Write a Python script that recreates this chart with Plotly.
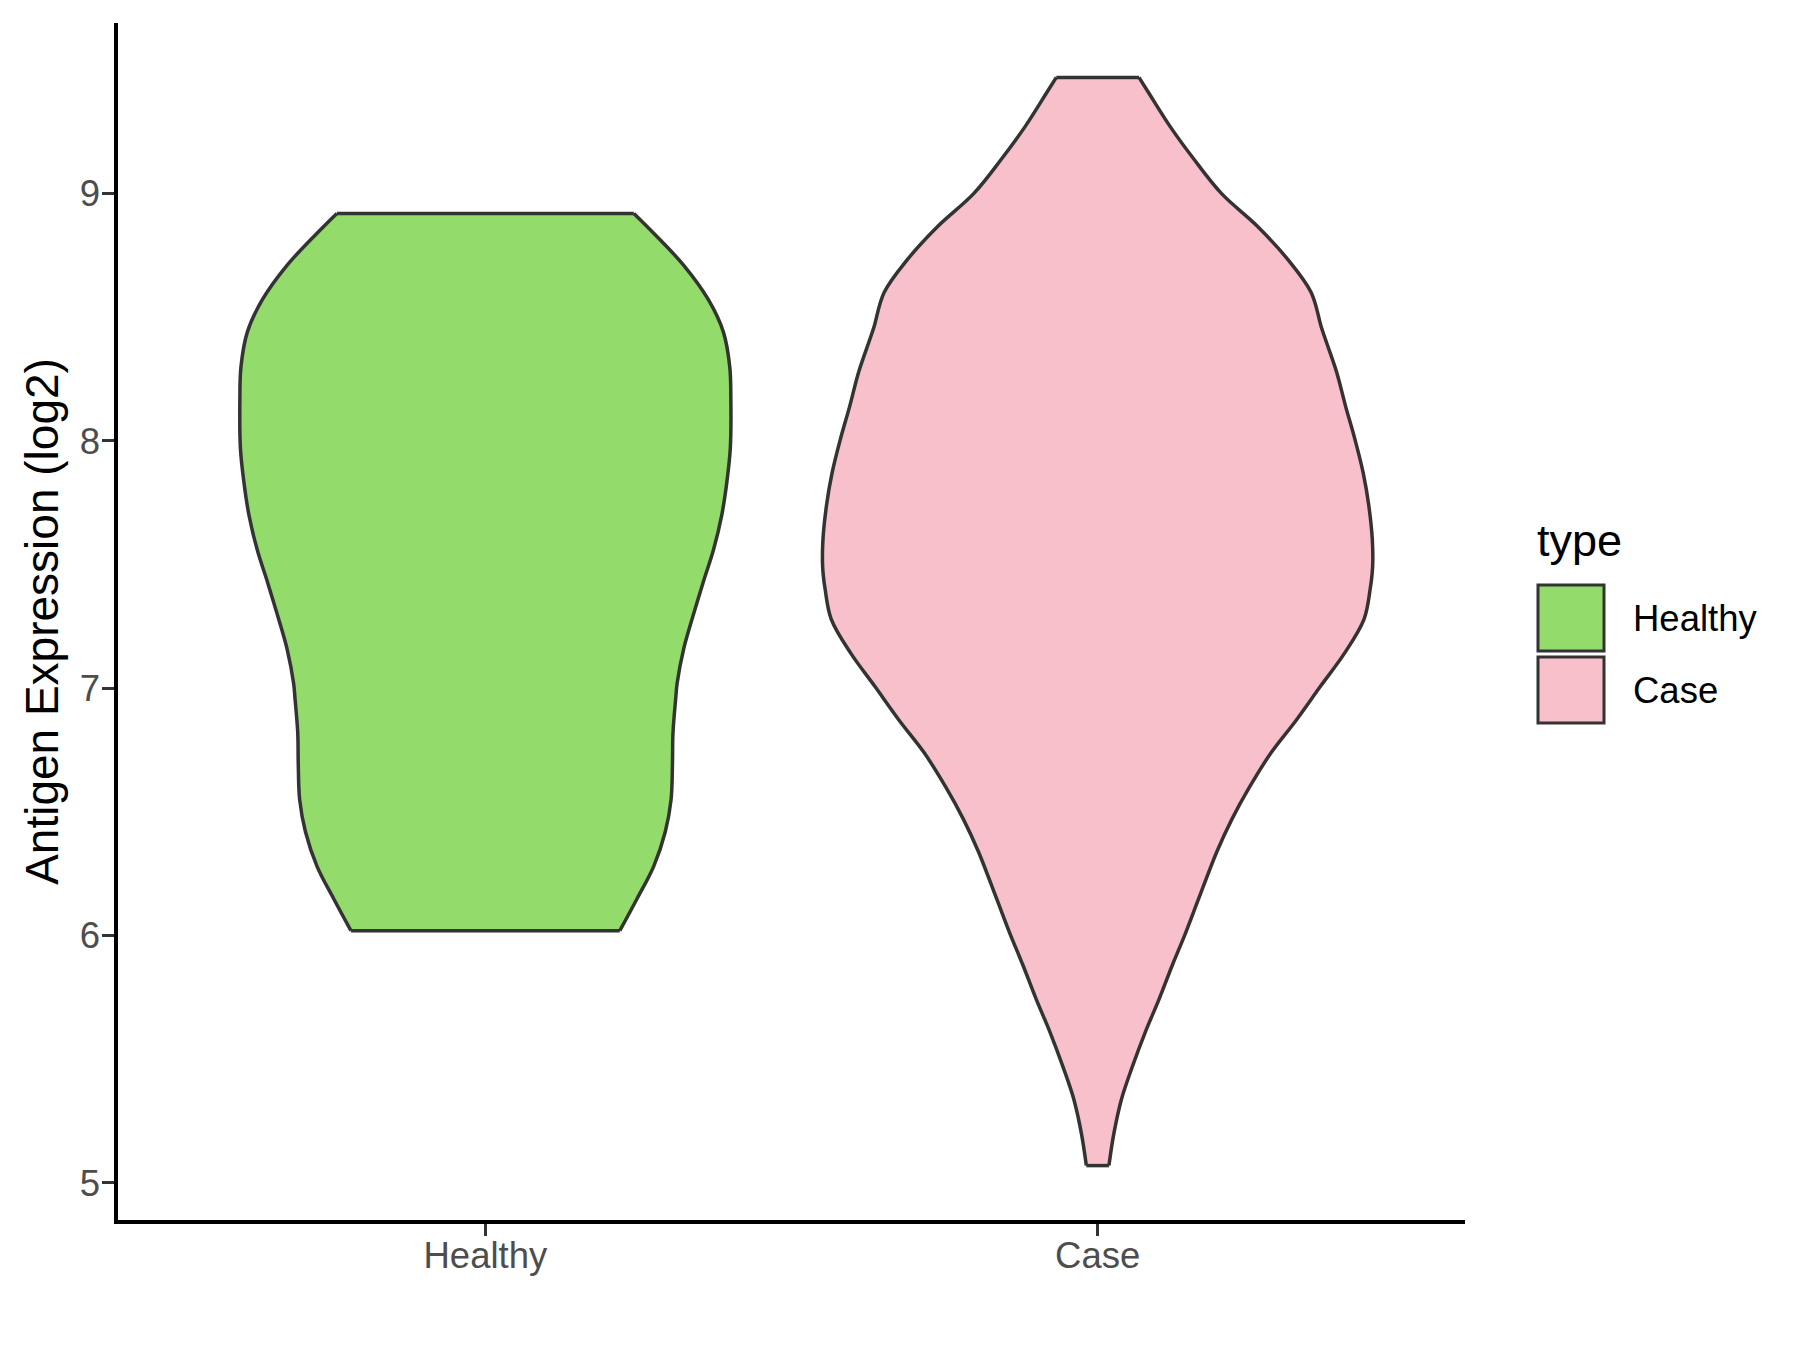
import numpy as np
import plotly.graph_objects as go

# ---------------- data ----------------
categories = ["Healthy", "Case"]
fill_colors = ["#93DB6B", "#F7C0CB"]

# violin profiles: y level and scaled density (1.0 = widest violin)
healthy_y = [6.02, 6.15, 6.28, 6.42, 6.55, 6.69, 6.82, 6.96, 7.02, 7.16, 7.29,
             7.43, 7.56, 7.70, 7.83, 7.97, 8.17, 8.30, 8.44, 8.57, 8.71, 8.84, 8.92]
healthy_density = [0.488, 0.551, 0.611, 0.653, 0.674, 0.679, 0.681, 0.691, 0.696,
                   0.720, 0.753, 0.791, 0.828, 0.858, 0.876, 0.889, 0.891, 0.887,
                   0.864, 0.810, 0.720, 0.611, 0.539]

case_y = [5.07, 5.20, 5.34, 5.47, 5.61, 5.74, 5.88, 6.01, 6.15, 6.34, 6.47, 6.60,
          6.74, 6.87, 7.01, 7.14, 7.28, 7.40, 7.49, 7.60, 7.74, 7.87, 8.01, 8.14,
          8.28, 8.41, 8.46, 8.60, 8.73, 8.87, 9.00, 9.14, 9.27, 9.41, 9.47]
case_density = [0.041, 0.059, 0.087, 0.126, 0.173, 0.222, 0.271, 0.319, 0.367,
                0.433, 0.487, 0.551, 0.630, 0.720, 0.810, 0.895, 0.967, 0.989,
                0.998, 0.997, 0.984, 0.964, 0.933, 0.900, 0.867, 0.827, 0.812,
                0.775, 0.693, 0.578, 0.450, 0.349, 0.264, 0.184, 0.150]

y_ticks = [5, 6, 7, 8, 9]
y_title = "Antigen Expression (log2)"
legend_title = "type"

# ---------------- layout constants ----------------
W, H = 1800, 1350
OFF = 8  # page body margin offset
ML, MR, MT, MB = 118 - OFF, 335 + OFF, 23 - OFF, 130 + OFF
PW, PH = W - ML - MR, H - MT - MB
HALF_WIDTH = 0.45
OUTLINE = "#333333"
LW = 3.5
FONT = "Liberation Sans, Arial, sans-serif"

profiles = [(healthy_y, healthy_density), (case_y, case_density)]

fig = go.Figure()
for i, (cat, (ys, ds), col) in enumerate(zip(categories, profiles, fill_colors)):
    pos = i + 1
    ys = np.asarray(ys, dtype=float)
    ds = np.asarray(ds, dtype=float)
    xr = pos + ds * HALF_WIDTH
    xl = pos - ds * HALF_WIDTH
    # filled body
    x = np.concatenate([xr, xl[::-1], xr[:1]])
    y = np.concatenate([ys, ys[::-1], ys[:1]])
    fig.add_trace(go.Scatter(
        x=x, y=y, mode="lines", fill="toself", fillcolor=col,
        line=dict(color=col, width=0), name=cat,
        showlegend=False, hoverinfo="skip"))
    # smooth side outlines
    for side in (xr, xl):
        fig.add_trace(go.Scatter(
            x=side, y=ys, mode="lines",
            line=dict(color=OUTLINE, width=LW, shape="spline", smoothing=1.0),
            showlegend=False, hoverinfo="skip"))
    # flat top and bottom edges
    for k in (0, -1):
        fig.add_trace(go.Scatter(
            x=[xl[k], xr[k]], y=[ys[k], ys[k]], mode="lines",
            line=dict(color=OUTLINE, width=LW),
            showlegend=False, hoverinfo="skip"))

all_y = healthy_y + case_y
lo, hi = min(all_y), max(all_y)
pad = 0.05 * (hi - lo)

fig.update_xaxes(
    range=[0.4, len(categories) + 0.6],
    tickvals=list(range(1, len(categories) + 1)), ticktext=categories,
    showline=True, linecolor="black", linewidth=3.5,
    ticks="outside", ticklen=12, tickwidth=3, tickcolor=OUTLINE,
    tickfont=dict(family=FONT, size=36.5, color="#4D4D4D"),
    ticklabelstandoff=-12,
    showgrid=False, zeroline=False, automargin=False)
fig.update_yaxes(
    range=[lo - pad, hi + pad], tickvals=y_ticks,
    showline=True, linecolor="black", linewidth=3.5,
    ticks="outside", ticklen=12, tickwidth=3, tickcolor=OUTLINE,
    tickfont=dict(family=FONT, size=36.5, color="#4D4D4D"),
    ticklabelstandoff=-5,
    title=dict(text=y_title, font=dict(family=FONT, size=46, color="black"), standoff=8),
    showgrid=False, zeroline=False, automargin=False)


def px_x(fx):
    return (fx - OFF - ML) / PW


def px_y(fy):
    return (H - MB - (fy - OFF)) / PH


# manual legend (ggplot style large keys)
shapes = []
annotations = [dict(text=legend_title, x=px_x(1535), y=px_y(540), xref="paper", yref="paper",
                    xanchor="left", yanchor="middle", showarrow=False,
                    font=dict(family=FONT, size=45, color="black"))]
key_top = 585
key_size = 66
key_step = 72
for i, (cat, col) in enumerate(zip(categories, fill_colors)):
    y0 = key_top + i * key_step
    shapes.append(dict(type="rect", xref="paper", yref="paper",
                       x0=px_x(1538), x1=px_x(1538 + key_size),
                       y0=px_y(y0 + key_size), y1=px_y(y0),
                       fillcolor=col, line=dict(color=OUTLINE, width=3)))
    annotations.append(dict(text=cat, x=px_x(1631), y=px_y(y0 + key_size / 2),
                            xref="paper", yref="paper", xanchor="left", yanchor="middle",
                            showarrow=False, font=dict(family=FONT, size=36.5, color="black")))

fig.update_layout(
    width=W, height=H,
    margin=dict(l=ML, r=MR, t=MT, b=MB, pad=0),
    paper_bgcolor="white", plot_bgcolor="white",
    shapes=shapes, annotations=annotations,
    showlegend=False)

fig.write_html("out.html")
